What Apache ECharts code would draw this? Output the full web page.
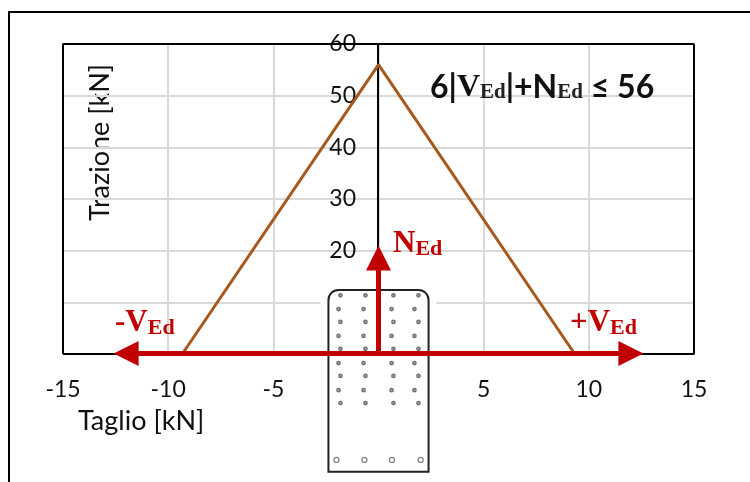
<!DOCTYPE html>
<html>
<head>
<meta charset="utf-8">
<style>
    html, body { margin: 0; padding: 0; background: #fff; }
    #chart { width: 750px; height: 482px; }
</style>
<script src="https://cdn.jsdelivr.net/npm/echarts@6/dist/echarts.min.js"></script>
</head>
<body>
<div id="chart"></div>
<script>
// resistance domain
var domainX = [-9.33, 0, 9.33];
var domainY = [0, 56, 0];

// plot frame
var frameX = [-15, -15, 15, 15, -15];
var frameY = [0, 60, 60, 0, 0];

// load arrows
var shearX = [-12, 12];
var shearY = [0.1, 0.1];
var axialX = [0, 0];
var axialY = [0, 18.6];

// section outline, x from/to and y from/to
var sectionX = [-2.38, 2.38];
var sectionY = [12.4, -22.8];

// anchors of the section
var rowAX = [-1.81, -0.62, 0.71, 1.9];
var rowBX = [-1.9, -0.71, 0.62, 1.71];
var rowAY = [11.35, 6.2, 1, -4.25, -9.5];
var rowBY = [8.7, 3.5, -1.75, -7];
var lastRowX = [-2, -0.67, 0.64, 2];
var lastRowY = [-20.5];

var RED = '#C00000';
var BROWN = '#A5591F';
var SERIF = '"Liberation Serif", "DejaVu Serif", serif';
var SANS = 'Lato, "Open Sans", sans-serif';

function pairs(xs, ys) {
    var out = [];
    for (var i = 0; i < xs.length; i++) {
        out.push([xs[i], ys[i]]);
    }
    return out;
}

function grid2(xs, ys) {
    var out = [];
    ys.forEach(function (y) {
        xs.forEach(function (x) {
            out.push([x, y]);
        });
    });
    return out;
}

function redLabel(prefix, left, top) {
    return {
        type: 'text',
        left: left,
        top: top,
        z: 20,
        style: {
            text: prefix,
            rich: {
                m: { font: 'bold 31px ' + SERIF, fill: RED },
                s: { font: 'bold 22px ' + SERIF, fill: RED, padding: [12, 0, 0, 0] }
            }
        }
    };
}

var chart = echarts.init(document.getElementById('chart'));

chart.setOption({
    animation: false,
    backgroundColor: '#fff',
    grid: {
        left: 63,
        right: 56,
        top: 44,
        bottom: 128
    },
    xAxis: {
        type: 'value',
        min: -15,
        max: 15,
        interval: 5,
        axisLine: { show: false },
        axisTick: { show: false },
        axisLabel: {
            margin: 24,
            color: '#111',
            fontFamily: SANS,
            fontSize: 23,
            showMinLabel: true,
            showMaxLabel: true
        },
        splitLine: { lineStyle: { color: '#D9D9D9', width: 2 } }
    },
    yAxis: {
        type: 'value',
        min: 0,
        max: 60,
        interval: 10,
        offset: -315,
        axisLine: { show: true, onZero: false, lineStyle: { color: '#000', width: 2 } },
        axisTick: { show: false },
        axisLabel: {
            margin: 22,
            color: '#111',
            fontFamily: SANS,
            fontSize: 23,
            showMinLabel: true,
            showMaxLabel: true
        },
        splitLine: { lineStyle: { color: '#D9D9D9', width: 2 } }
    },
    series: [
        {
            name: 'cornice',
            type: 'line',
            z: 1,
            clip: false,
            silent: true,
            symbol: 'none',
            lineStyle: { color: '#000', width: 2 },
            data: pairs(frameX, frameY)
        },
        {
            name: 'sezione',
            type: 'custom',
            z: 3,
            clip: false,
            silent: true,
            data: [[sectionX[0], sectionY[0], sectionX[1], sectionY[1]]],
            encode: { x: [0, 2], y: [1, 3] },
            renderItem: function (params, api) {
                var a = api.coord([api.value(0), api.value(1)]);
                var b = api.coord([api.value(2), api.value(3)]);
                var w = b[0] - a[0];
                var h = b[1] - a[1];
                return {
                    type: 'group',
                    children: [
                        {
                            type: 'rect',
                            shape: { x: a[0] - 8, y: a[1] - 4, width: w + 16, height: h + 8 },
                            style: { fill: '#fff' }
                        },
                        {
                            type: 'rect',
                            shape: { x: a[0], y: a[1], width: w, height: h, r: [10, 10, 0, 0] },
                            style: { fill: '#fff', stroke: '#222', lineWidth: 2 }
                        }
                    ]
                };
            }
        },
        {
            name: 'ancoranti',
            type: 'scatter',
            z: 4,
            clip: false,
            silent: true,
            symbol: 'circle',
            symbolSize: 3.5,
            itemStyle: { color: '#888', borderColor: '#555', borderWidth: 1.2 },
            data: grid2(rowAX, rowAY).concat(grid2(rowBX, rowBY))
        },
        {
            name: 'ancoranti base',
            type: 'scatter',
            z: 4,
            clip: false,
            silent: true,
            symbol: 'circle',
            symbolSize: 5,
            itemStyle: { color: '#fff', borderColor: '#666', borderWidth: 1.3 },
            data: grid2(lastRowX, lastRowY)
        },
        {
            name: 'dominio',
            type: 'line',
            z: 5,
            clip: false,
            silent: true,
            showSymbol: false,
            symbol: 'none',
            lineStyle: { color: BROWN, width: 3 },
            data: pairs(domainX, domainY)
        },
        {
            name: 'VEd',
            type: 'line',
            z: 6,
            clip: false,
            silent: true,
            showSymbol: true,
            showAllSymbol: true,
            symbol: 'triangle',
            symbolSize: [25, 25],
            itemStyle: { color: RED },
            lineStyle: { color: RED, width: 5 },
            data: [
                { value: [shearX[0], shearY[0]], symbolRotate: 90 },
                { value: [shearX[1], shearY[1]], symbolRotate: -90 }
            ]
        },
        {
            name: 'NEd',
            type: 'line',
            z: 6,
            clip: false,
            silent: true,
            showSymbol: true,
            showAllSymbol: true,
            symbol: 'triangle',
            symbolSize: [25, 25],
            itemStyle: { color: RED },
            lineStyle: { color: RED, width: 5 },
            data: [
                { value: [axialX[0], axialY[0]], symbol: 'none' },
                { value: [axialX[1], axialY[1]] }
            ]
        }
    ],
    graphic: {
        elements: [
            {
                type: 'polyline',
                z: 20,
                silent: true,
                shape: { points: [[9, 482], [9, 12], [750, 12]] },
                style: { fill: 'none', stroke: '#000', lineWidth: 2 }
            },
            {
                type: 'text',
                left: 78,
                top: 408,
                style: { text: 'Taglio [kN]', font: '27px ' + SANS, fill: '#111' }
            },
            {
                type: 'text',
                rotation: Math.PI / 2,
                x: 87,
                y: 221,
                style: { text: 'Trazione [kN]', font: '27px ' + SANS, fill: '#111' }
            },
            {
                type: 'text',
                left: 430,
                top: 72,
                z: 20,
                style: {
                    text: '{b|6|}{v|V}{s|Ed}{b||+N}{s|Ed}{b| ≤ 56}',
                    rich: {
                        b: { font: 'bold 32px ' + SANS, fill: '#111' },
                        v: { font: 'bold 32px ' + SERIF, fill: '#111' },
                        s: { font: 'bold 21px ' + SERIF, fill: '#222', padding: [10, 0, 0, 0] }
                    }
                }
            },
            redLabel('{m|N}{s|Ed}', 393, 228),
            redLabel('{m|-V}{s|Ed}', 115, 307),
            redLabel('{m|+V}{s|Ed}', 570, 307)
        ]
    }
});
</script>
</body>
</html>
